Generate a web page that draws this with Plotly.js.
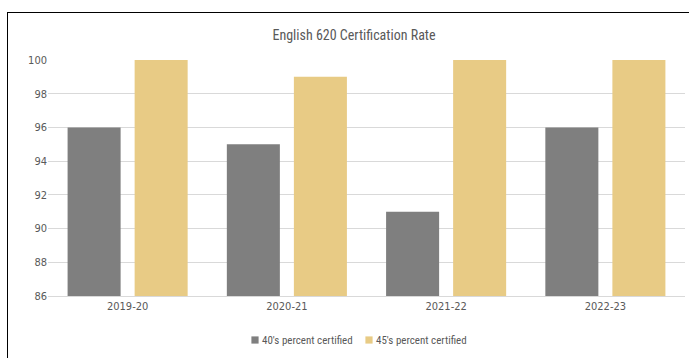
<!DOCTYPE html>
<html>
<head>
<meta charset="utf-8">
<script src="https://cdn.plot.ly/plotly-3.0.1.min.js"></script>
<style>
  html, body { margin: 0; padding: 0; background: #fff; overflow: hidden; }
  #chart { position: absolute; left: 0; top: 0; width: 689px; height: 358px; }
  #frame { position: absolute; left: 7px; top: 12px; width: 720px; height: 400px; border: 1.5px solid #000; pointer-events: none; }
  #chart .legend .legendpoints path { transform: translate(33px, 0px) scale(0.6); }
  #chart .legend .scrollbox, #chart .legend * { clip-path: none !important; }
</style>
</head>
<body>
<div id="chart"></div>
<div id="frame"></div>
<script>
const categories = ["2019-20", "2020-21", "2021-22", "2022-23"];
const series40Name = "40's percent certified";
const series45Name = "45's percent certified";
const series40 = [96, 95, 91, 96];
const series45 = [100, 99, 100, 100];
const yTicks = [86, 88, 90, 92, 94, 96, 98, 100];

const narrow = "'Roboto Condensed', 'DejaVu Sans Condensed', sans-serif";
const tickFontFamily = "'DejaVu Sans Condensed', 'Liberation Sans', sans-serif";

const data = [
  { type: "bar", name: series40Name, x: categories, y: series40,
    marker: { color: "#7f7f7f" }, hoverinfo: "none" },
  { type: "bar", name: series45Name, x: categories, y: series45,
    marker: { color: "#e8cb85" }, hoverinfo: "none" }
];

const layout = {
  width: 689, height: 358,
  margin: { l: 48, r: 4, t: 60, b: 62, autoexpand: false },
  paper_bgcolor: "#fff", plot_bgcolor: "#fff",
  barmode: "group", bargap: 0.158, bargroupgap: 0.209,
  title: { text: "English 620 Certification Rate", x: 354/689, xanchor: "center",
           xref: "container", yref: "container",
           y: 1 - 35/358, yanchor: "middle",
           font: { family: narrow, size: 14, color: "#595959" } },
  xaxis: { type: "category", showgrid: false, zeroline: false, showline: true,
           linecolor: "#d9d9d9", linewidth: 1, ticks: "",
           tickfont: { family: tickFontFamily, size: 11, color: "#595959" } },
  yaxis: { range: [86, 100], tickvals: yTicks, ticktext: yTicks.map(String),
           showgrid: true, gridcolor: "#d9d9d9", gridwidth: 1, zeroline: false,
           showline: false, ticks: "", ticklen: 0,
           tickfont: { family: tickFontFamily, size: 11, color: "#595959" } },
  showlegend: true,
  legend: { orientation: "h", xref: "container", yref: "container",
            x: 222/689, xanchor: "left", y: 1 - 340/358, yanchor: "middle",
            font: { family: narrow, size: 11, color: "#595959" },
            itemwidth: 30, entrywidth: 69, entrywidthmode: "pixels",
            bgcolor: "rgba(0,0,0,0)" }
};

Plotly.newPlot("chart", data, layout, { staticPlot: true, displayModeBar: false });
</script>
</body>
</html>
